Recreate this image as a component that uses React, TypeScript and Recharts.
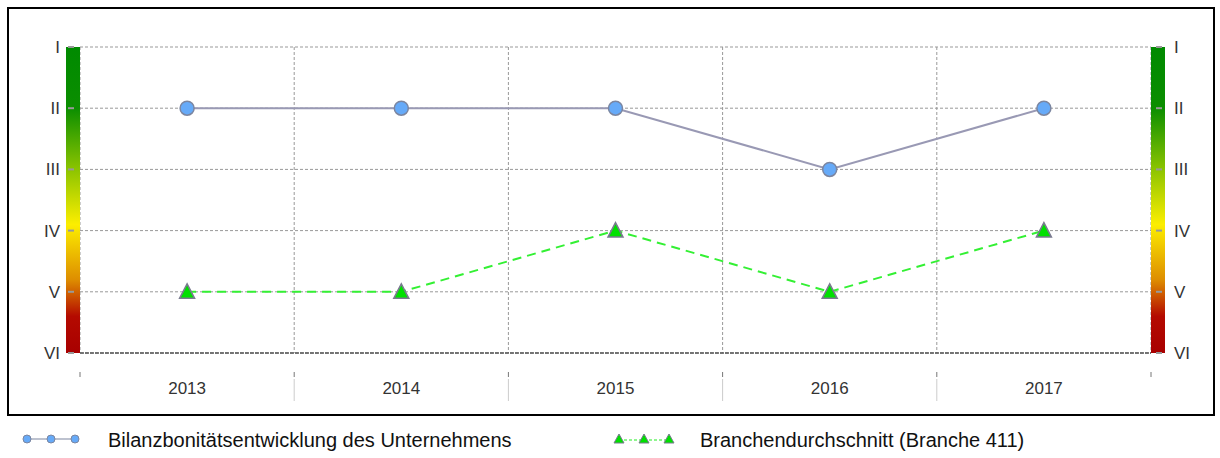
import * as R from "recharts";
import { CartesianGrid, Line, LineChart, XAxis, YAxis } from "recharts";

const years = ["2013", "2014", "2015", "2016", "2017"];
const companyRating = [2, 2, 2, 3, 2];
const industryRating = [5, 5, 4, 5, 4];
const ratingTicks = [1, 2, 3, 4, 5, 6];
const ratingLabels = ["I", "II", "III", "IV", "V", "VI"];
const companyName = "Bilanzbonitätsentwicklung des Unternehmens";
const industryName = "Branchendurchschnitt (Branche 411)";

const data = years.map((year, i) => ({
  year,
  company: companyRating[i],
  industry: industryRating[i],
}));

const FONT = "Arial, 'Liberation Sans', Helvetica, sans-serif";
const BAR_W = 14;

function usePlot() {
  const anyR = R as any;
  if (anyR.usePlotArea) return anyR.usePlotArea();
  return null;
}

function RatingScales() {
  const area = usePlot();
  if (!area) return null;
  const { x, y, width, height } = area;
  const bottom = y + height;
  const step = width / years.length;
  return (
    <g>
      <defs>
        <linearGradient id="ratingGrad" x1="0" y1="0" x2="0" y2="1">
          <stop offset="0%" stopColor="#008a00" />
          <stop offset="20%" stopColor="#0b8e00" />
          <stop offset="40%" stopColor="#8cc400" />
          <stop offset="58%" stopColor="#fcee00" />
          <stop offset="76%" stopColor="#de8e00" />
          <stop offset="88%" stopColor="#b40a00" />
          <stop offset="100%" stopColor="#a80000" />
        </linearGradient>
      </defs>
      <rect x={x - BAR_W} y={y} width={BAR_W} height={height} fill="url(#ratingGrad)" />
      <rect x={x + width} y={y} width={BAR_W} height={height} fill="url(#ratingGrad)" />
      {Array.from({ length: years.length + 1 }, (_, i) => {
        const sx = x + i * step;
        const inner = i > 0 && i < years.length;
        return (
          <g key={i}>
            <line x1={sx} x2={sx} y1={bottom + 19} y2={bottom + 24} stroke="#777" strokeWidth={1} />
            {inner && (
              <line x1={sx} x2={sx} y1={bottom + 26} y2={bottom + 48} stroke="#ccc" strokeWidth={1} />
            )}
          </g>
        );
      })}
    </g>
  );
}

function LeftTick(props: any) {
  const { x, y, payload } = props;
  return (
    <g>
      <line x1={x + 8} x2={x + 14} y1={y} y2={y} stroke="#999" strokeWidth={2} />
      <text x={x} y={y} dy={6} textAnchor="end" fontFamily={FONT} fontSize={17} fill="#333">
        {ratingLabels[payload.value - 1]}
      </text>
    </g>
  );
}

function RightTick(props: any) {
  const { x, y, payload } = props;
  return (
    <g>
      <line x1={x - 18} x2={x - 12} y1={y} y2={y} stroke="#999" strokeWidth={2} />
      <text x={x} y={y} dy={6} textAnchor="start" fontFamily={FONT} fontSize={17} fill="#333">
        {ratingLabels[payload.value - 1]}
      </text>
    </g>
  );
}

function YearTick(props: any) {
  const { x, y, payload } = props;
  return (
    <text x={x} y={y} dy={41} textAnchor="middle" fontFamily={FONT} fontSize={17} fill="#333">
      {payload.value}
    </text>
  );
}

function CircleDot(props: any) {
  const { cx, cy } = props;
  if (cx == null || cy == null) return null;
  return <circle cx={cx} cy={cy} r={7} fill="#66aaf8" stroke="#7c86a0" strokeWidth={1.5} />;
}

function TriangleDot(props: any) {
  const { cx, cy } = props;
  if (cx == null || cy == null) return null;
  return (
    <path
      d={`M${cx},${cy - 8} L${cx + 7.5},${cy + 6.5} L${cx - 7.5},${cy + 6.5} Z`}
      fill="#00e000"
      stroke="#7a7a90"
      strokeWidth={1.5}
    />
  );
}

function LegendRow() {
  return (
    <svg width={1220} height={38} style={{ position: "absolute", left: 0, top: 420 }}>
      <line x1={27} x2={75} y1={19} y2={19} stroke="#7c86a0" strokeWidth={1.2} />
      {[27, 51, 75].map((cx) => (
        <circle key={cx} cx={cx} cy={19} r={4} fill="#66aaf8" stroke="#7c86a0" strokeWidth={1} />
      ))}
      <text x={108} y={27} fontFamily={FONT} fontSize={20} fill="#111">
        {companyName}
      </text>
      <line x1={619} x2={669} y1={20} y2={20} stroke="#22ee22" strokeWidth={1.2} strokeDasharray="3 2" />
      {[619, 644, 669].map((cx) => (
        <path
          key={cx}
          d={`M${cx},${14} L${cx + 5},${23} L${cx - 5},${23} Z`}
          fill="#00e000"
          stroke="#7a7a90"
          strokeWidth={1}
        />
      ))}
      <text x={700} y={27} fontFamily={FONT} fontSize={20} fill="#111">
        {industryName}
      </text>
    </svg>
  );
}

export default function App() {
  return (
    <div style={{ width: 1220, height: 450, fontFamily: FONT }}>
      <div
        style={{
          position: "absolute",
          left: 7,
          top: 7,
          width: 1208,
          height: 409,
          border: "2px solid #000",
          boxSizing: "border-box",
          background: "#fff",
        }}
      >
        <LineChart
          width={1204}
          height={405}
          data={data}
          margin={{ top: 38, right: 0, bottom: 0, left: 0 }}
        >
          <CartesianGrid
            yAxisId="left"
            stroke="#999"
            strokeDasharray="3 2"
            verticalCoordinatesGenerator={({ offset }: any) =>
              Array.from({ length: years.length + 1 }, (_, i) => offset.left + (i * offset.width) / years.length)
            }
          />
          <RatingScales />
          <XAxis
            dataKey="year"
            scale="band"
            height={61}
            tickLine={false}
            tickSize={0}
            tickMargin={0}
            axisLine={{ stroke: "#555", strokeWidth: 1.5, strokeDasharray: "4 1" }}
            tick={<YearTick />}
            interval={0}
          />
          <YAxis
            yAxisId="left"
            orientation="left"
            width={71}
            domain={[1, 6]}
            reversed
            ticks={ratingTicks}
            tickLine={false}
            tickSize={0}
            tickMargin={20}
            axisLine={false}
            tick={<LeftTick />}
            interval={0}
          />
          <YAxis
            yAxisId="right"
            orientation="right"
            width={62}
            domain={[1, 6]}
            reversed
            ticks={ratingTicks}
            tickLine={false}
            tickSize={0}
            tickMargin={23}
            axisLine={false}
            tick={<RightTick />}
            interval={0}
          />
          <Line
            yAxisId="left"
            type="linear"
            dataKey="company"
            name={companyName}
            stroke="#9999b4"
            strokeWidth={2}
            dot={<CircleDot />}
            activeDot={false}
            isAnimationActive={false}
          />
          <Line
            yAxisId="right"
            type="linear"
            dataKey="industry"
            name={industryName}
            stroke="#33f033"
            strokeWidth={2}
            strokeDasharray="9 6"
            dot={<TriangleDot />}
            activeDot={false}
            isAnimationActive={false}
          />
        </LineChart>
      </div>
      <LegendRow />
    </div>
  );
}
